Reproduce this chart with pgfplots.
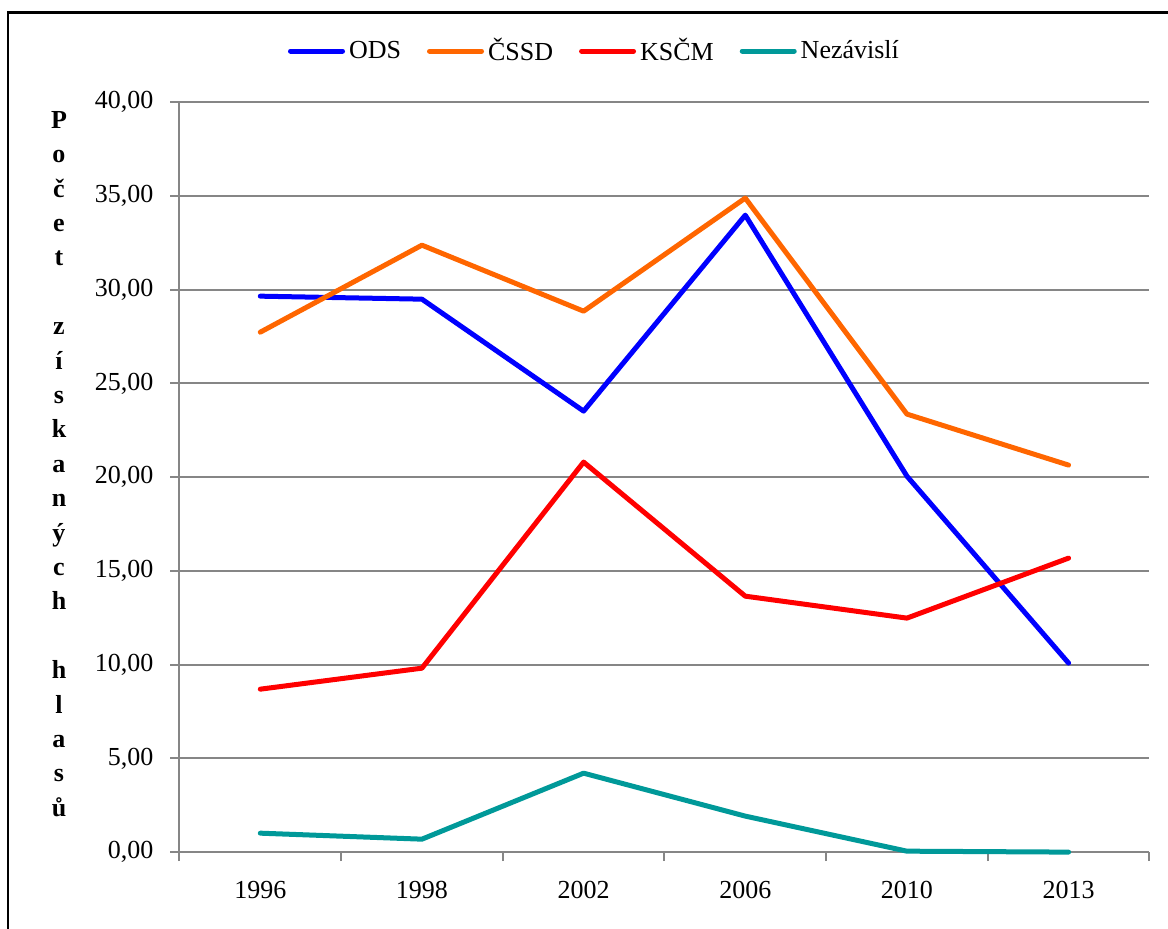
\documentclass[border=0pt]{standalone}
\usepackage{fontspec}
\setmainfont{Liberation Serif}
\usepackage{pgfplots}
\pgfplotsset{compat=1.18}
\definecolor{odsblue}{RGB}{0,0,255}
\definecolor{cssdorange}{RGB}{255,102,0}
\definecolor{kscmred}{RGB}{255,0,0}
\definecolor{nezteal}{RGB}{0,153,153}
\definecolor{gridgray}{RGB}{134,134,134}
\begin{document}
\begin{tikzpicture}[x=1pt,y=1pt]
\useasboundingbox (0,0) rectangle (584,464.5);
\draw[line width=1.2pt] (4,-2) -- (4,458.25) -- (590,458.25);
\node[font=\bfseries\fontsize{13}{17.2}\selectfont, align=center, inner sep=0] at (29.5,232.5)
  {P\\o\\č\\e\\t\\\mbox{}\\z\\í\\s\\k\\a\\n\\ý\\c\\h\\\mbox{}\\h\\l\\a\\s\\ů};
\begin{axis}[at={(111,41)}, anchor=south west,
  width=485pt, height=375pt, scale only axis,
  xmin=-0.5, xmax=5.5, ymin=0, ymax=40,
  clip=false,
  axis x line*=bottom, axis y line*=left,
  axis line style={gridgray, line width=1pt, -},
  tick align=outside, major tick length=4.5pt,
  every tick/.style={gridgray, line width=1pt},
  xtick={-0.5,0.5,1.5,2.5,3.5,4.5,5.5},
  xticklabels={,,,,,,},
  extra x ticks={0,1,2,3,4,5},
  extra x tick labels={1996,1998,2002,2006,2010,2013},
  extra x tick style={major tick length=0pt, xticklabel style={yshift=-11pt}},
  ytick={0,5,...,40},
  ymajorgrids, major grid style={gridgray, line width=1pt},
  /pgf/number format/assume math mode=true,
  yticklabel style={xshift=-5pt, /pgf/number format/.cd, fixed, fixed zerofill, precision=2, use comma},
  ticklabel style={font=\fontsize{13}{15}\selectfont},
  legend columns=4,
  legend style={at={(0.4289,1.068)}, anchor=center, draw=none, fill=none,
    font=\fontsize{13}{15}\selectfont,
    /tikz/every even column/.append style={column sep=11pt},
    nodes={inner xsep=2pt}},
  legend image code/.code={\draw[#1, line cap=round] (0pt,0pt) -- (26pt,0pt);},
  every axis plot/.append style={line width=2.5pt, line join=round, line cap=round},
]
\addplot[odsblue] coordinates {(0,29.65) (1,29.49) (2,23.52) (3,33.97) (4,20.05) (5,10.08)};
\addlegendentry{ODS}
\addplot[cssdorange] coordinates {(0,27.73) (1,32.37) (2,28.85) (3,34.88) (4,23.36) (5,20.64)};
\addlegendentry{ČSSD}
\addplot[kscmred] coordinates {(0,8.69) (1,9.81) (2,20.80) (3,13.65) (4,12.48) (5,15.68)};
\addlegendentry{KSČM}
\addplot[nezteal] coordinates {(0,1.01) (1,0.69) (2,4.21) (3,1.92) (4,0.05) (5,0.00)};
\addlegendentry{Nezávislí}
\end{axis}
\end{tikzpicture}
\end{document}
